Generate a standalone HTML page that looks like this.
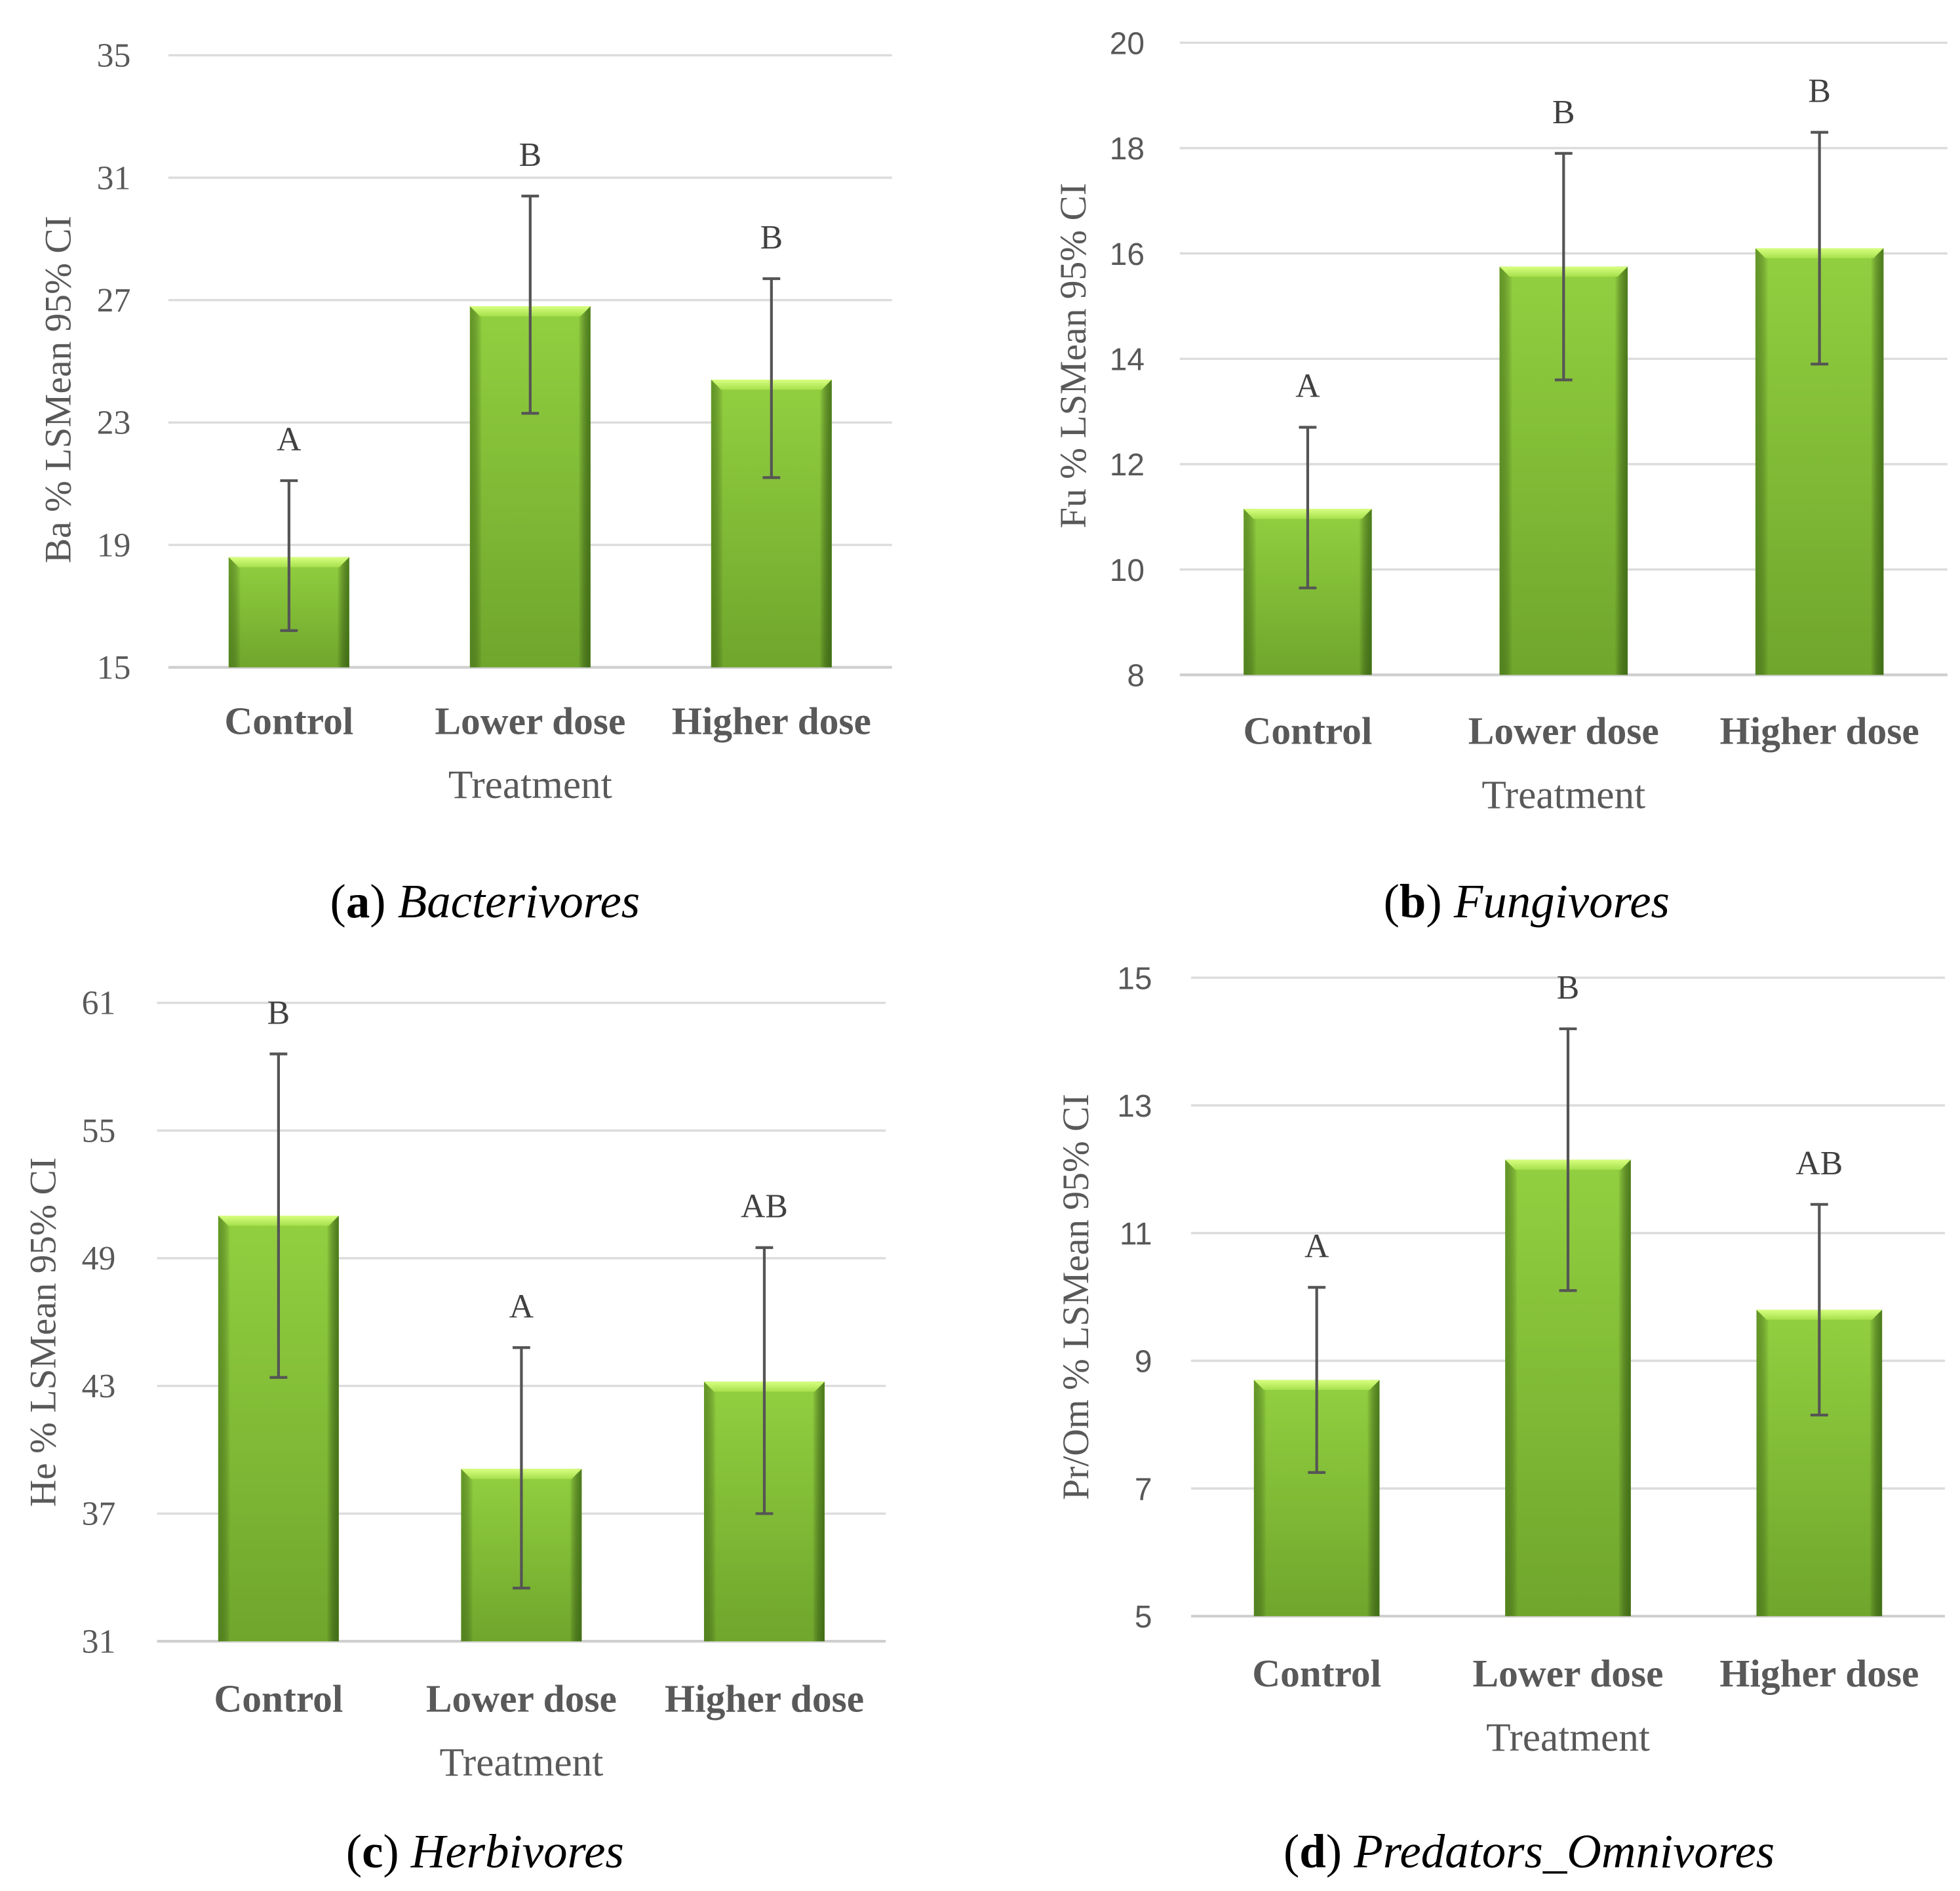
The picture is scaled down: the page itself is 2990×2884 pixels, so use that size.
<!DOCTYPE html>
<html><head><meta charset="utf-8">
<style>
html,body{margin:0;padding:0;background:#fff;}
svg{display:block;}
text{font-family:"Liberation Serif",serif;}
</style></head>
<body>
<svg id="fig" width="2990" height="2884" viewBox="0 0 1560 1504.7" xmlns="http://www.w3.org/2000/svg">
<defs>
<linearGradient id="gv" x1="0" y1="0" x2="0" y2="1">
<stop offset="0" stop-color="#92d040"/><stop offset="1" stop-color="#6fa62c"/>
</linearGradient>
<linearGradient id="gh" x1="0" y1="0" x2="1" y2="0">
<stop offset="0" stop-color="#3e6b12" stop-opacity="0.55"/><stop offset="0.1" stop-color="#000" stop-opacity="0"/>
<stop offset="0.9" stop-color="#000" stop-opacity="0"/><stop offset="1" stop-color="#2e5a0c" stop-opacity="0.7"/>
</linearGradient>
<linearGradient id="gt" x1="0" y1="0" x2="0" y2="1">
<stop offset="0" stop-color="#d8ff80"/><stop offset="1" stop-color="#a6e04c"/>
</linearGradient>
</defs>
</svg>
<script>
const categories = ["Control", "Lower dose", "Higher dose"];
const baValues = [18.6, 26.8, 24.4];
const baLow = [16.2, 23.3, 21.2];
const baHigh = [21.1, 30.4, 27.7];
const baLetters = ["A", "B", "B"];
const baTicks = [15, 19, 23, 27, 31, 35];
const fuValues = [11.15, 15.75, 16.1];
const fuLow = [9.65, 13.6, 13.9];
const fuHigh = [12.7, 17.9, 18.3];
const fuLetters = ["A", "B", "B"];
const fuTicks = [8, 10, 12, 14, 16, 18, 20];
const heValues = [51.0, 39.1, 43.2];
const heLow = [43.4, 33.5, 37.0];
const heHigh = [58.6, 44.8, 49.5];
const heLetters = ["B", "A", "AB"];
const heTicks = [31, 37, 43, 49, 55, 61];
const poValues = [8.7, 12.15, 9.8];
const poLow = [7.25, 10.1, 8.15];
const poHigh = [10.15, 14.2, 11.45];
const poLetters = ["A", "B", "AB"];
const poTicks = [5, 7, 9, 11, 13, 15];

const NS = "http://www.w3.org/2000/svg";
const svg = document.getElementById("fig");
function mk(tag, attrs, parent, txt) {
  const e = document.createElementNS(NS, tag);
  for (const k in attrs) e.setAttribute(k, attrs[k]);
  if (txt !== undefined) e.textContent = txt;
  (parent || svg).appendChild(e);
  return e;
}

function panel(cfg) {
  const g = mk("g", {});
  
  
  const t = cfg.ticks, lo = t[0], hi = t[t.length - 1];
  const y = v => cfg.y0 + (v - lo) / (hi - lo) * (cfg.y1 - cfg.y0);
  const step = (cfg.x1 - cfg.x0) / categories.length;
  const xc = i => cfg.x0 + step * (i + 0.5);
  t.forEach((v, i) => {
    const ln = mk("line", {x1: cfg.x0, x2: cfg.x1, y1: y(v), y2: y(v), stroke: i === 0 ? "#cfcfcf" : "#dcdcdc", "stroke-width": i === 0 ? 2.2 : 1.8}, g);
    
    
    const tx = mk("text", {x: cfg.tickX, y: y(v) + 9, "text-anchor": "end", "font-size": 27, fill: "#595959", style: cfg.sansTicks ? 'font-family:"Liberation Sans",sans-serif;font-size:25px' : ''}, g, String(v));
    
    
  });
  const bw = cfg.bw;
  categories.forEach((c, i) => {
    const x = xc(i), top = y(cfg.values[i]), base = y(lo);
    const b = mk("g", {}, g);
    
    
    mk("rect", {x: x - bw / 2, y: top, width: bw, height: base - top, fill: "url(#gv)"}, b);
    mk("rect", {x: x - bw / 2, y: top, width: bw, height: base - top, fill: "url(#gh)"}, b);
    mk("polygon", {points: `${x - bw / 2},${top} ${x + bw / 2},${top} ${x + bw / 2 - 8},${top + 8} ${x - bw / 2 + 8},${top + 8}`, fill: "url(#gt)"}, b);
    const e = mk("g", {stroke: "#555", "stroke-width": 2.2}, g);
    
    
    mk("line", {x1: x, x2: x, y1: y(cfg.low[i]), y2: y(cfg.high[i])}, e);
    mk("line", {x1: x - 7, x2: x + 7, y1: y(cfg.low[i]), y2: y(cfg.low[i])}, e);
    mk("line", {x1: x - 7, x2: x + 7, y1: y(cfg.high[i]), y2: y(cfg.high[i])}, e);
    const L = mk("text", {x: x, y: y(cfg.high[i]) - 24, "text-anchor": "middle", "font-size": 27, fill: "#404040"}, g, cfg.letters[i]);
    
    
    const C = mk("text", {x: x, y: cfg.catY, "text-anchor": "middle", "font-size": 31, "font-weight": "bold", fill: "#595959"}, g, c);
    
    
  });
  const T = mk("text", {x: xc(1), y: cfg.catY + 51, "text-anchor": "middle", "font-size": 32, fill: "#595959"}, g, "Treatment");
  
  
  const Y = mk("text", {x: 0, y: 0, "text-anchor": "middle", "font-size": 30, fill: "#595959", transform: `translate(${cfg.titleX},${cfg.titleY}) rotate(-90)`}, g, cfg.ytitle);
  
  
  const cap = mk("text", {x: cfg.capX, y: cfg.capY, "text-anchor": "middle", "font-size": 38, fill: "#000"}, g);
  
  
  mk("tspan", {}, cap, "(");
  mk("tspan", {"font-weight": "bold"}, cap, cfg.capLetter);
  mk("tspan", {}, cap, ") ");
  mk("tspan", {"font-style": "italic"}, cap, cfg.capText);
}

panel({name: "panel-a-bacterivores", ticks: baTicks, values: baValues, low: baLow, high: baHigh, letters: baLetters,
  x0: 134, x1: 710, y0: 531, y1: 44, bw: 96, tickX: 104, catY: 584, titleX: 56, titleY: 310,
  ytitle: "Ba % LSMean 95% CI", capX: 386, capY: 730, capLetter: "a", capText: "Bacterivores"});
panel({name: "panel-b-fungivores", ticks: fuTicks, values: fuValues, low: fuLow, high: fuHigh, letters: fuLetters,
  x0: 939, x1: 1550, y0: 537, y1: 34, bw: 102, tickX: 911, catY: 592, titleX: 864, titleY: 283, sansTicks: true,
  ytitle: "Fu % LSMean 95% CI", capX: 1215, capY: 730, capLetter: "b", capText: "Fungivores"});
panel({name: "panel-c-herbivores", ticks: heTicks, values: heValues, low: heLow, high: heHigh, letters: heLetters,
  x0: 125, x1: 705, y0: 1306, y1: 798, bw: 96, tickX: 92, catY: 1362, titleX: 44, titleY: 1060,
  ytitle: "He % LSMean 95% CI", capX: 386, capY: 1486, capLetter: "c", capText: "Herbivores"});
panel({name: "panel-d-predators-omnivores", ticks: poTicks, values: poValues, low: poLow, high: poHigh, letters: poLetters,
  x0: 948, x1: 1548, y0: 1286, y1: 778, bw: 100, tickX: 917, catY: 1342, titleX: 866, titleY: 1032, sansTicks: true,
  ytitle: "Pr/Om % LSMean 95% CI", capX: 1217, capY: 1486, capLetter: "d", capText: "Predators_Omnivores"});
</script>
</body></html>
